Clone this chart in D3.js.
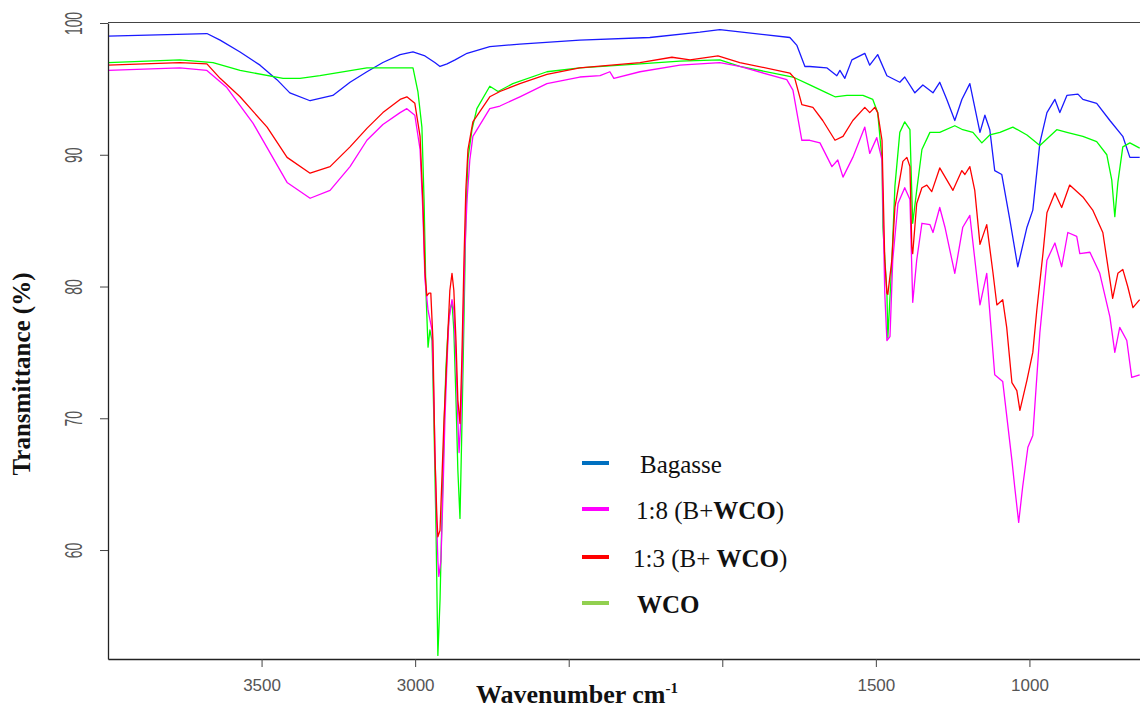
<!DOCTYPE html>
<html>
<head>
<meta charset="utf-8">
<script src="https://cdn.jsdelivr.net/npm/d3@7"></script>
<style>
  body { margin: 0; background: #fff; }
  svg { display: block; }
</style>
</head>
<body>
<svg id="chart" width="1140" height="710"></svg>
<script>
// FTIR spectra: [wavenumber cm-1, transmittance %]
var bagasse = [[4000,99.0],[3678,99.2],[3635,98.7],[3570,97.8],[3505,96.8],[3450,95.7],[3408,94.7],[3342,94.1],[3268,94.5],[3212,95.5],[3157,96.3],[3105,97.0],[3049,97.6],[3007,97.8],[2968,97.5],[2936,97.0],[2919,96.7],[2896,96.9],[2870,97.2],[2831,97.7],[2757,98.2],[2659,98.4],[2464,98.7],[2236,98.9],[2073,99.3],[2008,99.5],[1780,98.9],[1757,98.3],[1731,96.7],[1715,96.7],[1660,96.6],[1627,96.0],[1617,96.4],[1601,95.8],[1578,97.2],[1536,97.7],[1520,96.8],[1494,97.6],[1464,96.0],[1422,95.5],[1406,95.9],[1373,94.7],[1347,95.3],[1314,94.7],[1292,95.5],[1269,94.2],[1243,92.6],[1220,94.2],[1194,95.4],[1161,91.7],[1145,93.0],[1129,91.9],[1113,88.8],[1090,88.5],[1064,85.1],[1038,81.5],[1008,84.5],[989,85.8],[966,90.9],[943,93.2],[917,94.2],[901,93.2],[878,94.5],[842,94.6],[826,94.2],[781,93.9],[738,92.6],[696,91.4],[673,89.8],[641,89.8]];

var mix18 = [[4000,96.4],[3766,96.6],[3678,96.4],[3613,95.1],[3528,92.4],[3417,87.9],[3342,86.7],[3277,87.3],[3212,89.1],[3157,91.1],[3105,92.3],[3049,93.2],[3027,93.5],[3001,93.0],[2984,90.4],[2975,85.8],[2968,80.5],[2958,78.2],[2952,77.5],[2945,76.7],[2939,71.4],[2932,63.8],[2926,59.2],[2923,58.0],[2916,59.2],[2910,63.8],[2903,69.9],[2896,74.4],[2890,77.5],[2880,79.0],[2874,78.2],[2867,74.4],[2861,69.9],[2857,67.4],[2851,69.9],[2844,76.7],[2838,82.8],[2831,86.6],[2822,89.6],[2812,91.4],[2757,93.5],[2724,93.7],[2659,94.4],[2571,95.4],[2464,95.9],[2398,96.0],[2366,96.3],[2353,95.8],[2268,96.3],[2138,96.8],[2008,97.0],[1943,96.7],[1790,95.7],[1770,94.9],[1741,91.1],[1715,91.1],[1682,90.9],[1643,89.1],[1624,89.6],[1607,88.3],[1575,89.8],[1536,92.1],[1520,90.1],[1497,91.3],[1480,89.6],[1471,79.5],[1464,75.9],[1454,76.2],[1445,82.0],[1428,86.3],[1406,87.5],[1389,86.6],[1380,78.8],[1367,82.0],[1350,84.8],[1324,84.7],[1314,84.1],[1292,86.0],[1275,84.5],[1243,81.0],[1217,84.5],[1194,85.4],[1161,78.6],[1139,81.0],[1113,73.3],[1087,72.8],[1057,66.8],[1048,64.8],[1035,62.1],[1022,64.8],[1005,67.8],[989,68.7],[966,76.5],[943,82.0],[917,83.3],[895,81.5],[875,84.1],[846,83.8],[836,82.5],[803,82.6],[771,81.0],[738,77.7],[722,75.0],[706,76.9],[683,75.9],[667,73.1],[641,73.3]];

var mix13 = [[4000,96.8],[3766,97.0],[3678,96.9],[3635,95.8],[3570,94.4],[3482,92.1],[3417,89.8],[3342,88.6],[3277,89.1],[3212,90.6],[3157,92.0],[3105,93.2],[3049,94.2],[3027,94.4],[3001,93.9],[2984,91.4],[2975,86.6],[2968,81.1],[2962,79.3],[2955,79.5],[2949,79.5],[2942,75.9],[2936,67.6],[2929,62.3],[2926,61.0],[2919,61.5],[2913,65.3],[2906,69.9],[2900,72.9],[2893,76.7],[2887,79.7],[2880,81.0],[2874,79.7],[2867,75.9],[2861,71.4],[2854,69.6],[2848,74.4],[2841,82.0],[2835,87.3],[2828,90.4],[2812,92.5],[2757,94.4],[2724,94.8],[2659,95.4],[2571,96.1],[2464,96.6],[2268,97.0],[2164,97.4],[2105,97.2],[2014,97.5],[1943,97.0],[1780,96.2],[1764,95.8],[1741,93.8],[1705,93.6],[1673,92.6],[1633,91.1],[1607,91.4],[1575,92.6],[1536,93.6],[1520,93.2],[1503,93.6],[1494,93.2],[1480,91.1],[1471,82.0],[1464,79.5],[1461,79.4],[1448,82.0],[1438,86.0],[1412,89.5],[1399,89.8],[1389,89.1],[1383,83.0],[1380,82.5],[1367,86.3],[1350,87.5],[1334,87.7],[1318,87.2],[1292,89.0],[1249,87.3],[1220,88.8],[1210,88.5],[1194,89.1],[1178,87.3],[1161,83.2],[1139,84.7],[1119,81.1],[1106,78.6],[1087,79.0],[1074,76.9],[1057,72.7],[1041,72.1],[1031,70.6],[1008,72.9],[989,75.0],[976,78.2],[956,82.5],[943,85.6],[917,87.1],[895,86.0],[869,87.7],[826,86.8],[794,85.8],[761,84.1],[729,79.1],[712,81.0],[696,81.3],[680,80.0],[663,78.4],[641,79.0]];

var wco = [[4000,97.0],[3766,97.2],[3658,97.0],[3570,96.4],[3430,95.8],[3375,95.8],[3310,96.0],[3157,96.6],[3049,96.6],[3007,96.6],[2991,94.8],[2978,92.1],[2971,86.6],[2965,79.7],[2958,75.4],[2952,76.7],[2945,75.9],[2939,69.9],[2932,61.5],[2926,52.0],[2919,56.2],[2913,62.3],[2906,69.1],[2900,73.7],[2893,76.7],[2887,78.2],[2880,78.8],[2874,76.7],[2867,71.4],[2861,66.1],[2854,62.4],[2848,69.1],[2841,77.5],[2835,85.1],[2828,89.7],[2815,91.9],[2799,93.5],[2757,95.2],[2730,94.8],[2682,95.4],[2571,96.3],[2464,96.6],[2268,96.9],[2138,97.1],[2008,97.2],[1943,96.7],[1770,95.9],[1715,95.3],[1660,94.7],[1633,94.4],[1594,94.5],[1542,94.5],[1510,94.2],[1494,93.2],[1480,89.6],[1477,84.5],[1464,79.5],[1461,76.1],[1448,81.8],[1438,87.6],[1422,91.7],[1406,92.5],[1389,91.9],[1383,87.1],[1380,84.8],[1367,87.3],[1350,90.4],[1324,91.7],[1292,91.7],[1243,92.2],[1217,91.9],[1184,91.7],[1155,90.9],[1129,91.5],[1096,91.7],[1054,92.1],[1008,91.5],[966,90.7],[911,91.9],[878,91.7],[826,91.4],[781,91.0],[748,90.0],[732,88.1],[722,85.3],[712,87.9],[696,90.6],[673,90.9],[641,90.5]];

var xTicks = [3500, 3000, 2500, 2000, 1500, 1000];
var xTickLabels = ["3500", "3000", "", "", "1500", "1000"];
var yTicks = [60, 70, 80, 90, 100];

// legend: [plain text, bold text, closing text]
var legendLabels = [["Bagasse", "", ""], ["1:8 (B+", "WCO", ")"], ["1:3 (B+ ", "WCO", ")"], ["", "WCO", ""]];
var legendColors = ["#0070c0", "#ff00ff", "#ff0000", "#92d050"];

var svg = d3.select("#chart");

var x = d3.scaleLinear().domain([4000, 640]).range([108, 1140]);
var y = d3.scaleLinear().domain([51.73, 100]).range([659, 23]);

svg.append("defs").append("clipPath").attr("id", "plotClip")
    .append("rect")
    .attr("x", x(4000)).attr("y", 0)
    .attr("width", x(640) - x(4000)).attr("height", y(51.73));

var line = d3.line()
    .x(function(d){ return x(d[0]); })
    .y(function(d){ return y(d[1]); });

// drawn back to front, red ends up on top like the original
var traces = [
    {data: bagasse, color: "#1a1aff"},
    {data: wco, color: "#00ff00"},
    {data: mix18, color: "#ff00ff"},
    {data: mix13, color: "#ff0000"}
];

svg.append("g").attr("clip-path", "url(#plotClip)")
    .selectAll("path").data(traces).enter()
    .append("path")
    .attr("d", function(d){ return line(d.data); })
    .attr("fill", "none")
    .attr("stroke", function(d){ return d.color; })
    .attr("stroke-width", 1.3)
    .attr("stroke-linejoin", "round");

// top edge of the box
svg.append("line")
    .attr("x1", x(4000)).attr("x2", x(640))
    .attr("y1", y(100) - 0.5).attr("y2", y(100) - 0.5)
    .attr("stroke", "#444").attr("stroke-width", 1.2);

var xAxis = svg.append("g")
    .attr("transform", "translate(0," + y(51.73) + ")")
    .call(d3.axisBottom(x)
        .tickValues(xTicks)
        .tickFormat(function(d, i){ return xTickLabels[i]; })
        .tickSize(8).tickSizeOuter(0).tickPadding(12));
xAxis.select(".domain").attr("stroke", "#222").attr("stroke-width", 1.3);
xAxis.selectAll(".tick line").attr("stroke", "#444");
xAxis.selectAll(".tick text")
    .attr("fill", "#555")
    .style("font-family", "'Liberation Sans', Arial, sans-serif")
    .style("font-size", "17px");

var yAxis = svg.append("g")
    .attr("transform", "translate(" + x(4000) + ",0)")
    .call(d3.axisLeft(y).tickValues(yTicks).tickSize(8).tickSizeOuter(0));
yAxis.select(".domain").attr("stroke", "#222").attr("stroke-width", 1.3);
yAxis.selectAll(".tick line").attr("stroke", "#444");
yAxis.selectAll(".tick text")
    .attr("x", 0).attr("dy", 0)
    .attr("text-anchor", "middle")
    .attr("transform", "translate(-26,0) rotate(-90) scale(0.87,1.45)")
    .attr("fill", "#555")
    .style("font-family", "'Liberation Sans', Arial, sans-serif")
    .style("font-size", "16px");

// axis titles
var xTitle = svg.append("text")
    .attr("x", 577).attr("y", 703)
    .attr("text-anchor", "middle")
    .style("font-family", "'Liberation Serif', 'Times New Roman', serif")
    .style("font-weight", "bold")
    .style("font-size", "26px")
    .attr("fill", "#111");
xTitle.append("tspan").text("Wavenumber cm");
xTitle.append("tspan").attr("dy", -10).style("font-size", "15px").text("-1");

svg.append("text")
    .attr("transform", "translate(30,374) rotate(-90)")
    .attr("text-anchor", "middle")
    .style("font-family", "'Liberation Serif', 'Times New Roman', serif")
    .style("font-weight", "bold")
    .style("font-size", "25px")
    .attr("fill", "#111")
    .text("Transmittance (%)");

// legend
var legendY = [463, 509, 557, 603];
var legendTextX = [640, 636, 633, 637];
var legend = svg.append("g");
legendLabels.forEach(function(lab, i){
    legend.append("line")
        .attr("x1", 582).attr("x2", 609)
        .attr("y1", legendY[i]).attr("y2", legendY[i])
        .attr("stroke", legendColors[i]).attr("stroke-width", 4);
    var t = legend.append("text")
        .attr("x", legendTextX[i]).attr("y", legendY[i] + 10)
        .style("font-family", "'Liberation Serif', 'Times New Roman', serif")
        .style("font-size", "25px")
        .attr("fill", "#111");
    if (lab[0]) t.append("tspan").text(lab[0]);
    if (lab[1]) t.append("tspan").style("font-weight", "bold").text(lab[1]);
    if (lab[2]) t.append("tspan").text(lab[2]);
});
</script>
</body>
</html>
